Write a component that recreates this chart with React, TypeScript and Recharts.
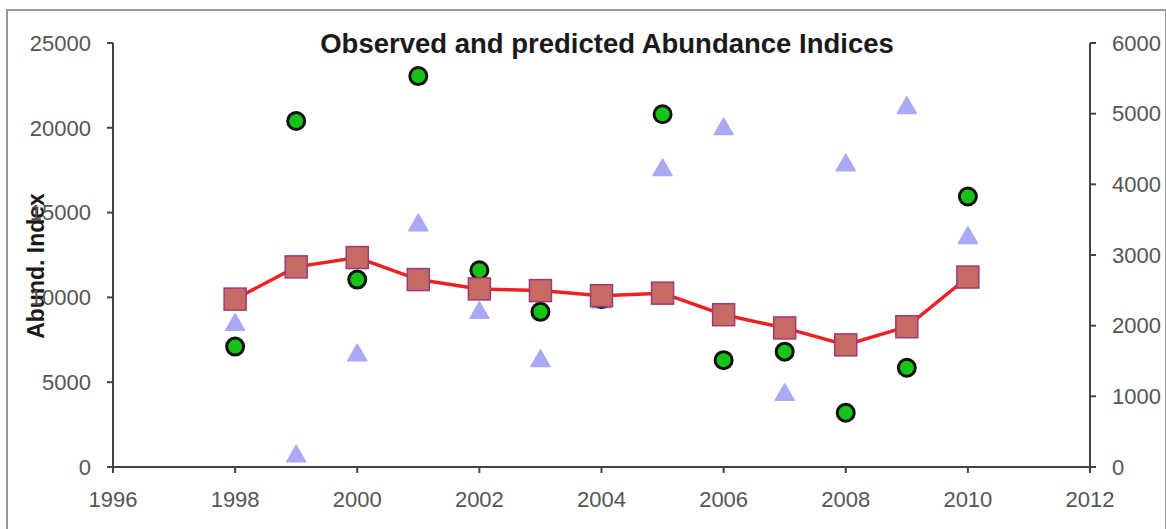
import { ComposedChart, Line, Scatter, XAxis, YAxis } from "recharts";

const years = [1998, 1999, 2000, 2001, 2002, 2003, 2004, 2005, 2006, 2007, 2008, 2009, 2010];
const predicted = [9900, 11800, 12350, 11050, 10500, 10400, 10100, 10250, 8980, 8200, 7200, 8270, 11200];
const observed = [7100, 20400, 11050, 23050, 11600, 9150, 9900, 20800, 6300, 6800, 3200, 5850, 15950];
const survey = [2040, 180, 1610, 3450, 2210, 1530, 2360, 4230, 4810, 1050, 4300, 5110, 3270];

const xTicks = [1996, 1998, 2000, 2002, 2004, 2006, 2008, 2010, 2012];
const leftTicks = [0, 5000, 10000, 15000, 20000, 25000];
const rightTicks = [0, 1000, 2000, 3000, 4000, 5000, 6000];

const data = years.map((year, i) => ({
  year,
  predicted: predicted[i],
  observed: observed[i],
  survey: survey[i],
}));

const FONT = "'Liberation Sans', Arial, sans-serif";
const tickStyle = { fontSize: 22, fill: "#555", fontFamily: FONT };
const axisLine = { stroke: "#444", strokeWidth: 2 };

const Square = (props: any) => {
  const { cx, cy, index } = props;
  if (cx == null || cy == null) return null;
  return (
    <rect
      key={`sq-${index}`}
      x={cx - 11}
      y={cy - 11}
      width={22}
      height={22}
      fill="#c86a64"
      stroke="#9a3c7a"
      strokeWidth={1.5}
    />
  );
};

const Circle = (props: any) => {
  const { cx, cy } = props;
  return <circle cx={cx} cy={cy} r={8.5} fill="#16c316" stroke="#111" strokeWidth={3} />;
};

const Triangle = (props: any) => {
  const { cx, cy } = props;
  return (
    <polygon
      points={`${cx},${cy - 9} ${cx + 9.5},${cy + 7.5} ${cx - 9.5},${cy + 7.5}`}
      fill="#a9a9f5"
      stroke="#a9a9f5"
      strokeWidth={1.5}
      strokeLinejoin="round"
    />
  );
};

export default function App() {
  return (
    <div style={{ position: "absolute", left: 0, top: 0, width: 1166, height: 529, background: "#fff" }}>
      <div
        style={{
          position: "absolute",
          left: 6,
          top: 9,
          width: 1157,
          height: 540,
          borderTop: "2px solid #999",
          borderLeft: "2px solid #999",
          borderRight: "2px solid #999",
        }}
      />
      <div
        style={{
          position: "absolute",
          left: 0,
          width: 1214,
          top: 28,
          textAlign: "center",
          fontFamily: FONT,
          fontWeight: "bold",
          fontSize: 27.5,
          color: "#1a1a1a",
        }}
      >
        Observed and predicted Abundance Indices
      </div>
      <ComposedChart
        width={1166}
        height={529}
        data={data}
        margin={{ top: 43, right: 0, bottom: 32, left: 0 }}
        style={{ position: "absolute", left: 0, top: 0 }}
      >
        <XAxis
          dataKey="year"
          type="number"
          domain={[1996, 2012]}
          ticks={xTicks}
          tick={tickStyle}
          axisLine={axisLine}
          tickLine={{ stroke: "#444", strokeWidth: 2 }}
          tickSize={6}
          tickMargin={18}
          height={30}
        />
        <YAxis
          yAxisId="left"
          domain={[0, 25000]}
          ticks={leftTicks}
          tick={tickStyle}
          axisLine={axisLine}
          tickLine={{ stroke: "#444", strokeWidth: 2 }}
          tickSize={6}
          tickMargin={16}
          width={113}
          label={{
            content: () => (
              <text
                x={44}
                y={266}
                transform="rotate(-90, 44, 266)"
                textAnchor="middle"
                fontFamily={FONT}
                fontWeight="bold"
                fontSize={23}
                fill="#1a1a1a"
              >
                Abund. Index
              </text>
            ),
          }}
        />
        <YAxis
          yAxisId="right"
          orientation="right"
          domain={[0, 6000]}
          ticks={rightTicks}
          tick={tickStyle}
          axisLine={axisLine}
          tickLine={{ stroke: "#444", strokeWidth: 2 }}
          tickSize={6}
          tickMargin={16}
          width={76}
        />
        <Scatter yAxisId="right" dataKey="survey" shape={<Triangle />} isAnimationActive={false} />
        <Scatter yAxisId="left" dataKey="observed" shape={<Circle />} isAnimationActive={false} />
        <Line
          yAxisId="left"
          dataKey="predicted"
          stroke="#ee2222"
          strokeWidth={3.5}
          dot={<Square />}
          activeDot={false}
          isAnimationActive={false}
        />
      </ComposedChart>
    </div>
  );
}
